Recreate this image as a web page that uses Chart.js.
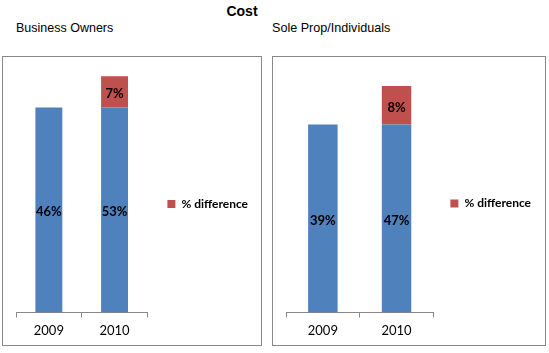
<!DOCTYPE html>
<html><head><meta charset="utf-8">
<script src="https://cdn.jsdelivr.net/npm/chart.js@4.4.1/dist/chart.umd.min.js"></script>
<style>
body{margin:0;background:#fff;}
#wrap{position:relative;width:549px;height:353px;background:#fff;overflow:hidden;font-family:"Liberation Sans",Arial,sans-serif;}
.t{position:absolute;white-space:nowrap;color:#000;line-height:1;}
.box{position:absolute;box-sizing:border-box;border:1px solid #888;background:#fff;}
.box canvas{display:block;}
</style></head><body>
<div id="wrap">
  <div class="t" style="left:0;width:484px;top:4px;text-align:center;font-weight:bold;font-size:14px;">Cost</div>
  <div class="t" style="left:16px;top:22px;font-size:12.5px;">Business Owners</div>
  <div class="t" style="left:272px;top:22px;font-size:12.6px;">Sole Prop/Individuals</div>
  <div class="box" style="left:2px;top:56px;width:260px;height:290px;"><canvas id="c1" width="258" height="288"></canvas></div>
  <div class="box" style="left:272px;top:56px;width:274px;height:290px;"><canvas id="c2" width="272" height="288"></canvas></div>
</div>
<script>
const categories = ['2009', '2010'];
const seriesNames = ['Cost', '% difference'];
const ownersTotal = [46, 53];
const ownersDiff = [0, 7];
const soleTotal = [39, 47];
const soleDiff = [0, 8];

const BLUE = '#4F81BD', RED = '#C0504D', GRID = '#888888';
const FONT = 'Lato, "Open Sans", sans-serif';

const labelPlugin = {
  id: 'barLabels',
  afterDatasetsDraw(chart, args, opts) {
    const ctx = chart.ctx;
    ctx.save();
    ctx.font = 'bold 13px ' + FONT;
    ctx.fillStyle = '#000';
    ctx.textAlign = 'center';
    ctx.textBaseline = 'middle';
    chart.data.datasets.forEach((ds, di) => {
      const meta = chart.getDatasetMeta(di);
      const texts = opts.texts[di];
      meta.data.forEach((el, i) => {
        const txt = texts[i];
        if (!txt) return;
        const p = el.getProps(['x', 'y', 'base'], true);
        ctx.fillText(txt, p.x, (p.y + p.base) / 2 + 2);
      });
    });
    ctx.restore();
  }
};

function makeChart(id, totals, diffs, yMax, pad, legendPad, barPct) {
  const base = totals.map((t, i) => t - diffs[i]);
  const diffVals = diffs.map(d => d > 0 ? d : null);
  const texts = [
    totals.map(t => t + '%'),
    diffs.map(d => d > 0 ? d + '%' : '')
  ];
  return new Chart(document.getElementById(id), {
    type: 'bar',
    data: {
      labels: categories,
      datasets: [
        { label: seriesNames[0], data: base, backgroundColor: BLUE, barPercentage: barPct, categoryPercentage: 1 },
        { label: seriesNames[1], data: diffVals, backgroundColor: RED, barPercentage: barPct, categoryPercentage: 1 }
      ]
    },
    options: {
      responsive: false,
      animation: false,
      layout: { padding: pad },
      plugins: {
        title: { display: false },
        tooltip: { enabled: false },
        barLabels: { texts: texts },
        legend: {
          position: 'right',
          labels: {
            filter: item => item.datasetIndex === 1,
            boxWidth: 8, boxHeight: 8, padding: legendPad, color: '#000',
            font: { family: FONT, size: 12, weight: 'bold' }
          }
        }
      },
      scales: {
        x: {
          stacked: true,
          grid: { display: true, drawOnChartArea: false, drawTicks: true, tickLength: 5, color: GRID, offset: true },
          border: { display: true, color: GRID },
          ticks: { color: '#000', padding: 6, font: { family: FONT, size: 13 } }
        },
        y: { stacked: true, display: false, min: 0, max: yMax }
      }
    },
    plugins: [labelPlugin]
  });
}

makeChart('c1', ownersTotal, ownersDiff, 56, { left: 13, right: 3, top: 6, bottom: 0 }, 20, 0.41);
makeChart('c2', soleTotal, soleDiff, 52, { left: 13, right: 4, top: 5, bottom: 0 }, 17, 0.40);
</script>
</body></html>
